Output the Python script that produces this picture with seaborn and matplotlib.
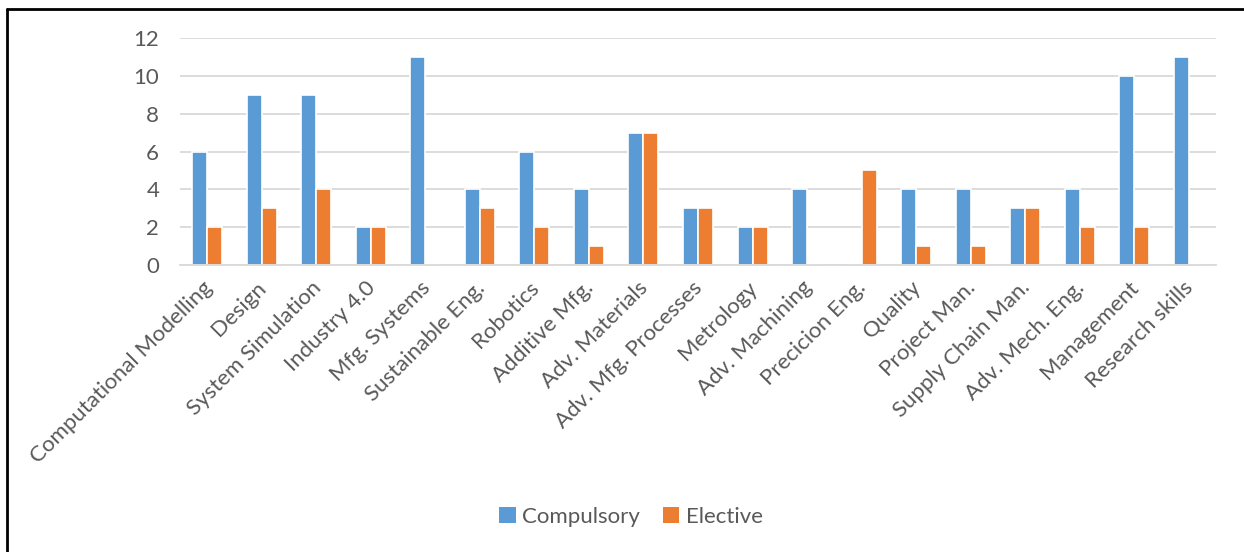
import matplotlib
matplotlib.use("Agg")
import matplotlib.pyplot as plt
import seaborn as sns
import pandas as pd
from matplotlib.lines import Line2D
from matplotlib.transforms import ScaledTranslation

categories = ["Computational Modelling", "Design", "System Simulation", "Industry 4.0",
              "Mfg. Systems", "Sustainable Eng.", "Robotics", "Additive Mfg.",
              "Adv. Materials", "Adv. Mfg. Processes", "Metrology", "Adv. Machining",
              "Precicion Eng.", "Quality", "Project Man.", "Supply Chain Man.",
              "Adv. Mech. Eng.", "Management", "Research skills"]
compulsory = [6, 9, 9, 2, 11, 4, 6, 4, 7, 3, 2, 4, 0, 4, 4, 3, 4, 10, 11]
elective = [2, 3, 4, 2, 0, 3, 2, 1, 7, 3, 2, 0, 5, 1, 1, 3, 2, 2, 0]
series_names = ["Compulsory", "Elective"]
colors = ["#5B9BD5", "#ED7D31"]
yticks = [0, 2, 4, 6, 8, 10, 12]

df = pd.DataFrame({
    "Category": categories * 2,
    "Value": compulsory + elective,
    "Series": [series_names[0]] * len(categories) + [series_names[1]] * len(categories),
})

sns.set_theme(style="white")
plt.rcParams["font.family"] = ["Lato", "DejaVu Sans"]
text_color = "#595959"

fig = plt.figure(figsize=(12.44, 5.52), dpi=100)
ax = fig.add_axes([180 / 1244, 1 - 265 / 552, (1216 - 180) / 1244, (265 - 38) / 552])

sns.barplot(data=df, x="Category", y="Value", hue="Series", order=categories,
            hue_order=series_names, palette=colors, width=0.55, ax=ax,
            edgecolor="white", linewidth=1.2, saturation=1, legend=False)

ax.set_ylim(0, 12)
ax.set_yticks(yticks)
ax.set_xlim(-0.5, len(categories) - 0.5)
ax.yaxis.grid(True, color="#D9D9D9", linewidth=1.3)
ax.set_axisbelow(True)
for s in ["top", "right", "left"]:
    ax.spines[s].set_visible(False)
ax.spines["bottom"].set_color("#D9D9D9")
ax.spines["bottom"].set_linewidth(1.3)
ax.tick_params(axis="both", length=0, colors=text_color, labelsize=16)
ax.tick_params(axis="y", pad=15)
ax.tick_params(axis="x", pad=9)
ax.set_xlabel("")
ax.set_ylabel("")
offset = ScaledTranslation(-4 / 72, 0, fig.dpi_scale_trans)
for lbl in ax.get_xticklabels():
    lbl.set_rotation(45)
    lbl.set_ha("right")
    lbl.set_rotation_mode("anchor")
    lbl.set_transform(lbl.get_transform() + offset)

handles = [plt.Rectangle((0, 0), 1, 1, facecolor=c, edgecolor="none") for c in colors]
fig.legend(handles, series_names, loc="center", bbox_to_anchor=(631 / 1244, 1 - 517 / 552),
           ncol=2, frameon=False, fontsize=16, handlelength=0.75, handleheight=0.75,
           handletextpad=0.3, columnspacing=1.0, labelcolor=text_color)

fig.add_artist(Line2D([7 / 1244, 7 / 1244], [0, 1 - 9 / 552], transform=fig.transFigure,
                      color="black", linewidth=2))
fig.add_artist(Line2D([7 / 1244, 1], [1 - 9 / 552, 1 - 9 / 552], transform=fig.transFigure,
                      color="black", linewidth=2))

fig.savefig("out.png", dpi=100)
